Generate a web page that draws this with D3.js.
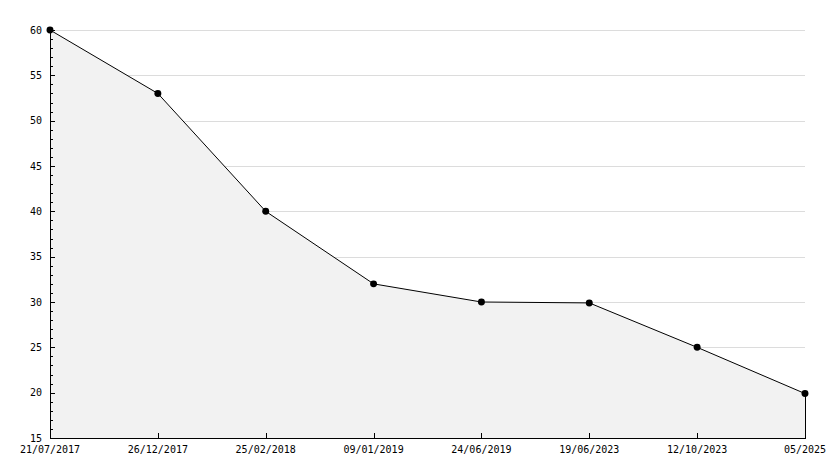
<!DOCTYPE html>
<html><head><meta charset="utf-8">
<script src="https://cdn.jsdelivr.net/npm/d3@7"></script>
<style>html,body{margin:0;padding:0;background:#fff}svg{display:block}</style>
</head><body>
<script>
const categories = ["21/07/2017","26/12/2017","25/02/2018","09/01/2019","24/06/2019","19/06/2023","12/10/2023","05/2025"];
const values = [60, 53, 40, 32, 30, 29.9, 25, 19.9];
const yTicks = [15, 20, 25, 30, 35, 40, 45, 50, 55, 60];

const W = 834, H = 468;
const m = {left: 50, right: 29, top: 30, bottom: 30};
const svg = d3.select("body").append("svg").attr("width", W).attr("height", H);
const font = "'DejaVu Sans Mono', monospace";

const x = d3.scalePoint().domain(categories).range([m.left, W - m.right]);
const y = d3.scaleLinear().domain([15, 60]).range([H - m.bottom, m.top]);

// grid
svg.append("g").selectAll("line").data(yTicks.filter(d => d > 15)).join("line")
  .attr("x1", m.left).attr("x2", W - m.right)
  .attr("y1", d => Math.round(y(d)) + 0.5).attr("y2", d => Math.round(y(d)) + 0.5)
  .attr("stroke", "#dcdcdc").attr("stroke-width", 1);

const data = categories.map((c, i) => ({c, v: values[i]}));

// area
const area = d3.area().x(d => x(d.c)).y0(y(15)).y1(d => y(d.v));
svg.append("path").datum(data).attr("d", area).attr("fill", "#f2f2f2");

// line
const line = d3.line().x(d => x(d.c)).y(d => y(d.v));
svg.append("path").datum(data).attr("d", line).attr("fill", "none").attr("stroke", "#000").attr("stroke-width", 1);

// right edge of area
const last = data[data.length - 1];
svg.append("line").attr("x1", x(last.c) + 0.5).attr("x2", x(last.c) + 0.5)
  .attr("y1", y(last.v)).attr("y2", y(15)).attr("stroke", "#000");

// y axis
const yAxisG = svg.append("g");
yAxisG.append("line").attr("x1", m.left + 0.5).attr("x2", m.left + 0.5)
  .attr("y1", y(60)).attr("y2", y(15)).attr("stroke", "#000");
const minor = d3.range(15, 61, 1);
yAxisG.selectAll("line.t").data(minor).join("line").attr("class", "t")
  .attr("x1", m.left).attr("x2", d => m.left + (d % 5 === 0 ? 5 : 3))
  .attr("y1", d => Math.round(y(d)) + 0.5).attr("y2", d => Math.round(y(d)) + 0.5)
  .attr("stroke", "#000");
yAxisG.selectAll("text").data(yTicks).join("text")
  .attr("x", m.left - 8).attr("y", d => y(d)).attr("dy", "0.35em")
  .attr("text-anchor", "end").attr("font-family", font).attr("font-size", 10)
  .attr("fill", "#000").text(d => d);

// x axis
const xAxisG = svg.append("g");
xAxisG.append("line").attr("x1", m.left).attr("x2", W - m.right + 1)
  .attr("y1", y(15) + 0.5).attr("y2", y(15) + 0.5).attr("stroke", "#000");
xAxisG.selectAll("line.t").data(categories).join("line").attr("class", "t")
  .attr("x1", d => Math.round(x(d)) + 0.5).attr("x2", d => Math.round(x(d)) + 0.5)
  .attr("y1", y(15)).attr("y2", y(15) - 5).attr("stroke", "#000");
xAxisG.selectAll("text").data(categories).join("text")
  .attr("x", d => x(d)).attr("y", y(15) + 11).attr("dy", "0.35em")
  .attr("text-anchor", "middle").attr("font-family", font).attr("font-size", 10)
  .attr("fill", "#000").text(d => d);

// markers
svg.append("g").selectAll("path").data(data).join("path")
  .attr("transform", d => `translate(${x(d.c)},${y(d.v)})`)
  .attr("d", d3.symbol(d3.symbolCircle, 38))
  .attr("fill", "#000");
</script>
</body></html>
